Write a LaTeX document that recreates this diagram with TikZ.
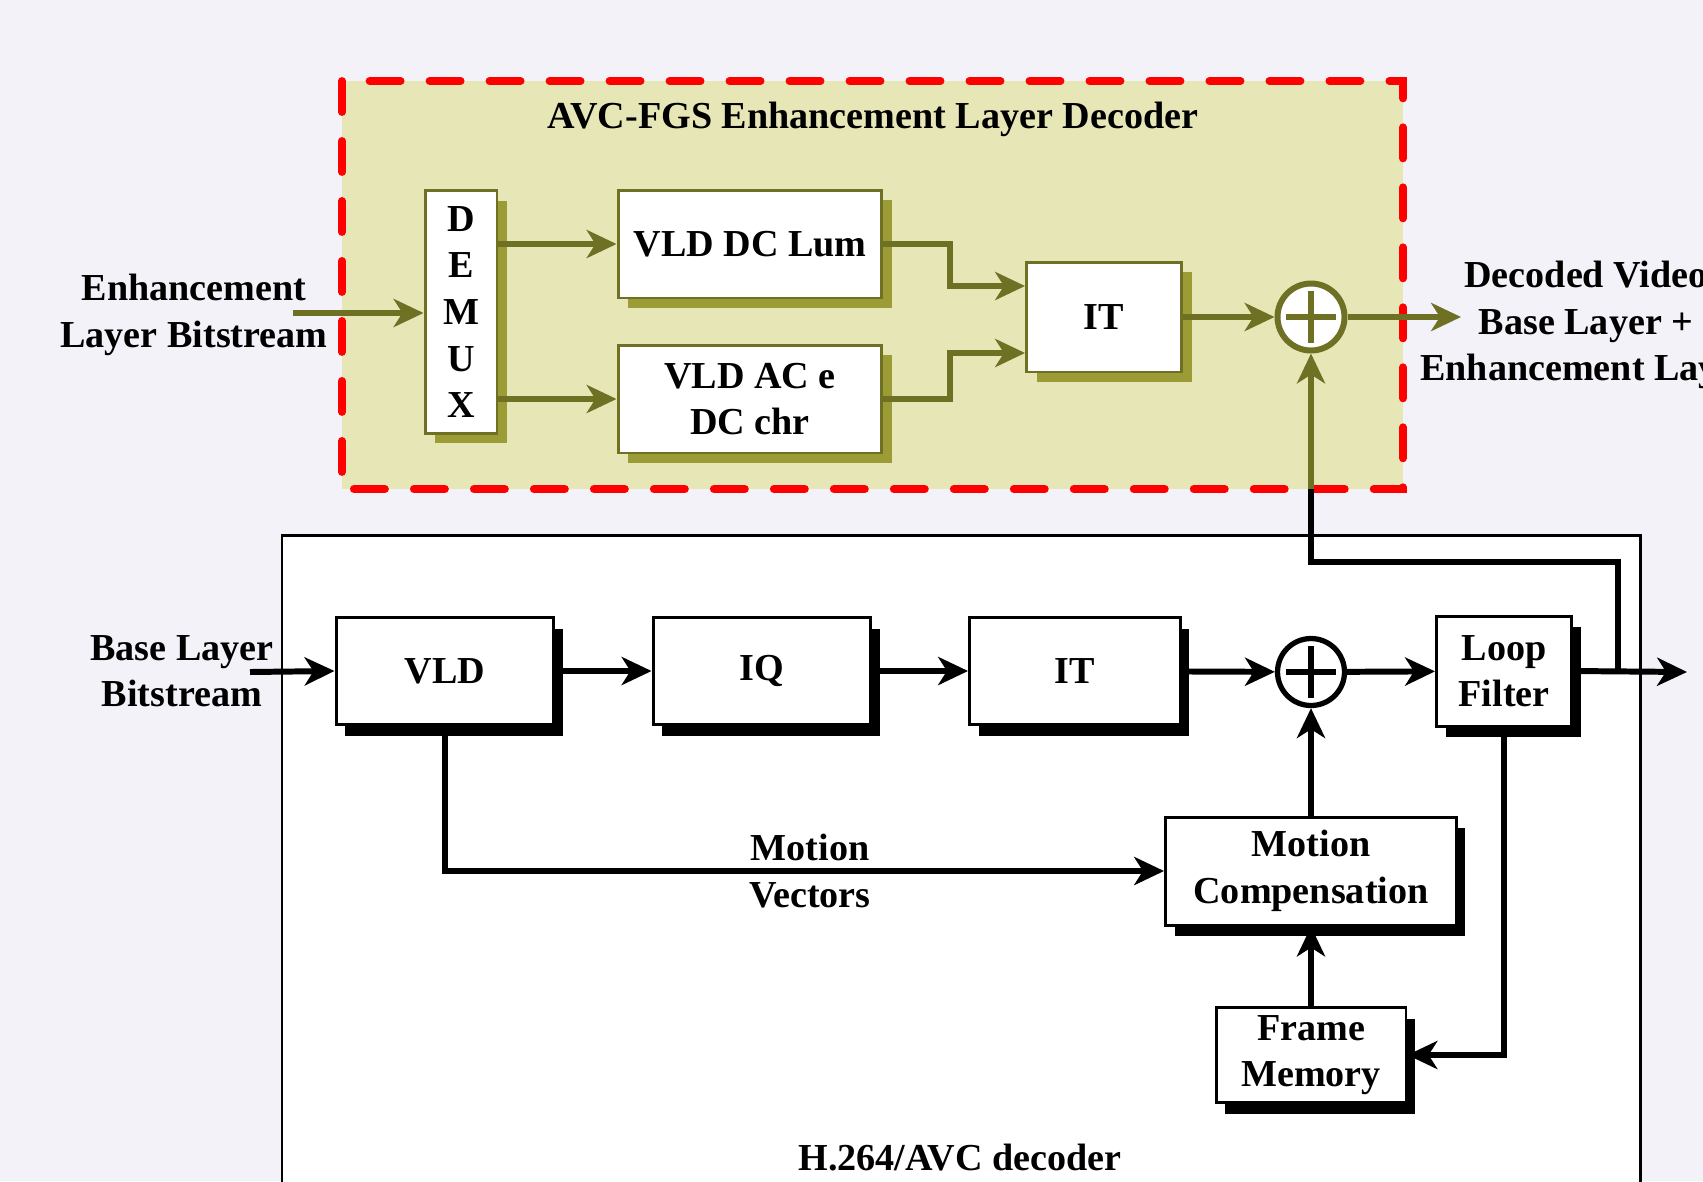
\documentclass[tikz,border=0pt]{standalone}
\usepackage{fontspec}
\setmainfont{Liberation Serif}
\usepackage{xcolor}
\usepackage{tikz}
\usetikzlibrary{arrows.meta,shadows,calc}

\definecolor{olivedark}{RGB}{110,112,36}
\definecolor{oliveshade}{RGB}{156,156,54}
\definecolor{enhfill}{RGB}{230,230,183}
\definecolor{pagebg}{RGB}{243,242,248}

\begin{document}
\begin{tikzpicture}[
    x=0.02cm, y=-0.02cm,
    font=\fontsize{21.7}{26.5}\selectfont\bfseries,
    enhblock/.style={rectangle, draw=olivedark, line width=1.7pt, fill=white, align=center, inner sep=0pt, drop shadow={shadow xshift=0.2cm, shadow yshift=-0.2cm, fill=oliveshade, opacity=1}},
    baseblock/.style={rectangle, draw=black, line width=1.7pt, fill=white, align=center, inner sep=0pt, drop shadow={shadow xshift=0.18cm, shadow yshift=-0.22cm, fill=black, opacity=1}},
    enhsum/.style={circle, draw=olivedark, line width=3.4pt, fill=white, minimum size=1.34cm, inner sep=0pt},
    basesum/.style={circle, draw=black, line width=3pt, fill=white, minimum size=1.34cm, inner sep=0pt},
    enharrow/.style={draw=olivedark, line width=3.4pt, -{Stealth[length=17pt,width=16pt,inset=5pt]}},
    basearrow/.style={draw=black, line width=3.4pt, -{Stealth[length=17pt,width=16pt,inset=5pt]}},
    enhregion/.style={draw=red, fill=enhfill, line width=4.5pt, line cap=round, dash pattern=on 0.62cm off 0.58cm},
    txt/.style={align=center, inner sep=0pt}
]
    \clip (0,0) rectangle (1703,1181);
    \fill[pagebg] (0,0) rectangle (1703,1181);

    % enhancement layer
    \draw[enhregion] (342,81) rectangle (1403,489);
    \node[txt] (title) at (873,119) {AVC-FGS Enhancement Layer Decoder};
    \node[enhblock, minimum width=1.44cm, minimum height=4.86cm] (demux) at (461,312) {D\\E\\M\\U\\X};
    \node[enhblock, minimum width=5.28cm, minimum height=2.16cm] (dclum) at (750,244) {VLD DC Lum};
    \node[enhblock, minimum width=5.28cm, minimum height=2.16cm] (acdc) at (750,399) {VLD AC e\\DC chr};
    \node[enhblock, minimum width=3.1cm, minimum height=2.2cm] (eit) at (1104,317) {IT};
    \node[enhsum] (eadd) at (1311,317) {};
    \draw[olivedark, line width=3.4pt] ([xshift=-0.5cm]eadd.center) -- ([xshift=0.5cm]eadd.center);
    \draw[olivedark, line width=3.4pt] ([yshift=-0.52cm]eadd.center) -- ([yshift=0.52cm]eadd.center);
    \node[txt] (enhlabel) at (194,315) {Enhancement\\Layer Bitstream};
    \node[txt] (outlabel) at (1586,325) {Decoded Video\\Base Layer +\\Enhancement Layer};
    \coordinate (enhin) at (293,313);
    \coordinate (enhout) at (1461,317);

    % base layer
    \draw[line width=1.7pt, fill=white] (282,535) rectangle (1640,1240);
    \node[txt] (h264label) at (960,1158) {H.264/AVC decoder};
    \node[baseblock, minimum width=4.36cm, minimum height=2.14cm] (vld) at (445,671) {VLD};
    \node[baseblock, minimum width=4.36cm, minimum height=2.14cm] (iq) at (762,671) {IQ};
    \node[baseblock, minimum width=4.22cm, minimum height=2.14cm] (bit) at (1075,671) {IT};
    \node[basesum] (badd) at (1311,672) {};
    \draw[line width=3pt] ([xshift=-0.5cm]badd.center) -- ([xshift=0.5cm]badd.center);
    \draw[line width=3pt] ([yshift=-0.52cm]badd.center) -- ([yshift=0.52cm]badd.center);
    \node[baseblock, minimum width=2.7cm, minimum height=2.2cm] (loop) at (1504,671) {Loop\\Filter};
    \node[baseblock, minimum width=5.82cm, minimum height=2.16cm] (mc) at (1311,871) {Motion\\Compensation};
    \node[baseblock, minimum width=3.8cm, minimum height=1.9cm] (fm) at (1311,1055) {Frame\\Memory};
    \node[txt] (baselabel) at (182,671) {Base Layer\\Bitstream};
    \node[txt] (mvlabel) at (810,871) {Motion\\Vectors};
    \coordinate (basein) at (250,672);
    \coordinate (baseout) at (1687,672);
    \coordinate (tap) at (1618,672);
    \coordinate (bend) at (1311,562);
    \coordinate (feed) at (1311,489);

    % enhancement connectors
    \path[enharrow] (enhin) -- (enhin -| demux.west);
    \path[enharrow] (demux.east |- dclum) -- (dclum.west);
    \path[enharrow] (demux.east |- acdc) -- (acdc.west);
    \draw[enharrow] (dclum.east) -- ++(67,0) |- ([yshift=0.62cm]eit.west);
    \draw[enharrow] (acdc.east) -- ++(67,0) |- ([yshift=-0.72cm]eit.west);
    \path[enharrow] (eit) -- (eadd);
    \path[enharrow] (eadd.east) -- (enhout);

    % base connectors
    \path[basearrow] (basein) -- (vld.west);
    \path[basearrow] (vld) -- (iq);
    \path[basearrow] (iq) -- (bit);
    \path[basearrow] (bit) -- (badd);
    \path[basearrow] (badd) -- (loop);
    \path[basearrow] (loop.east) -- (baseout);
    \draw[basearrow] (vld.south) |- (mc.west);
    \path[basearrow] (mc) -- (badd);
    \path[basearrow] (fm) -- (mc);
    \draw[basearrow] (loop.south) |- (fm.east);
    \draw[line width=3.4pt] (tap) |- (bend) -- (feed);
    \path[enharrow] (feed) -- (eadd.south);
\end{tikzpicture}
\end{document}
